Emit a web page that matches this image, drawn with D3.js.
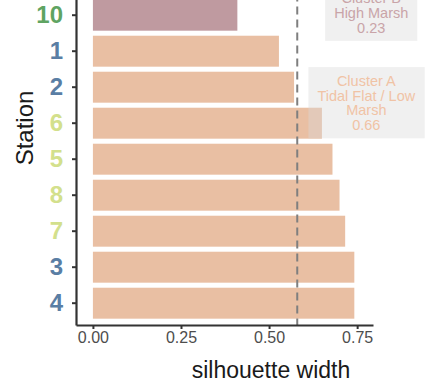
<!DOCTYPE html>
<html>
<head>
<meta charset="utf-8">
<script src="https://cdn.jsdelivr.net/npm/d3@7"></script>
<style>
  html, body { margin: 0; padding: 0; background: #fff; }
  svg { display: block; font-family: "Liberation Sans", Arial, Helvetica, sans-serif; }
</style>
</head>
<body>
<svg id="chart" width="437" height="384"></svg>
<script>
// Stations, top to bottom, with their mean silhouette width
const stations = ["10", "1", "2", "6", "5", "8", "7", "3", "4"];
const silhouette = [0.41, 0.528, 0.571, 0.65, 0.68, 0.70, 0.716, 0.742, 0.742];
const clusterOf = ["B", "A", "A", "A", "A", "A", "A", "A", "A"];
// Habitat group of each station (colours the station labels)
const stationGroup = ["green", "blue", "blue", "lime", "lime", "lime", "lime", "blue", "blue"];
const overallSilhouette = 0.58;
const xTicks = [0, 0.25, 0.5, 0.75];

// Cluster summary labels
const clusterNames = ["B", "A"];
const clusterLines = [["Cluster B", "High Marsh", "0.23"], ["Cluster A", "Tidal Flat / Low", "Marsh", "0.66"]];
const clusterLabelX = [0.79, 0.776];
const clusterLabelRow = [-0.07, 2.43];

const clusterFill = { A: "#e9bfa3", B: "#bf9aa0" };
const clusterText = { A: "#f0c3a5", B: "#c9a4a8" };
const groupColour = { green: "#5fa462", blue: "#5a7ea4", lime: "#d3e08c" };

const svg = d3.select("#chart");
const panel = { left: 76, right: 373, top: -6.6, bottom: 325 };

const x = d3.scaleLinear().domain([-0.048, 0.795]).range([panel.left, panel.right]);
const y = d3.scaleBand().domain(stations).range([panel.top, panel.bottom])
  .paddingInner(0.14).paddingOuter(0.1756);
const rowY = r => y(stations[0]) + y.bandwidth() / 2 + r * y.step();

const rows = stations.map((s, i) => ({ station: s, value: silhouette[i], cluster: clusterOf[i], group: stationGroup[i] }));

// Bars
svg.append("g").selectAll("rect").data(rows).join("rect")
  .attr("x", x(0))
  .attr("y", d => y(d.station))
  .attr("width", d => x(d.value) - x(0))
  .attr("height", y.bandwidth())
  .attr("fill", d => clusterFill[d.cluster]);

// Overall mean silhouette
svg.append("line")
  .attr("x1", x(overallSilhouette)).attr("x2", x(overallSilhouette))
  .attr("y1", panel.top).attr("y2", panel.bottom)
  .attr("stroke", "#7f7f7f").attr("stroke-width", 2)
  .attr("stroke-dasharray", "8,5");

// Cluster labels
const lineH = 14.8, fs = 14.5, padY = 9;
clusterNames.forEach((c, k) => {
  const lines = clusterLines[k];
  const cx = x(clusterLabelX[k]);
  const cy = rowY(clusterLabelRow[k]);
  const g = svg.append("g");
  const txt = g.append("text")
    .attr("text-anchor", "middle")
    .attr("font-size", fs)
    .attr("fill", clusterText[c]);
  lines.forEach((l, j) => {
    txt.append("tspan")
      .attr("x", cx)
      .attr("y", cy + (j - (lines.length - 1) / 2) * lineH)
      .attr("dy", "0.36em")
      .text(l);
  });
  const bb = txt.node().getBBox();
  const h = lines.length * lineH + 2 * padY - 6;
  g.insert("rect", "text")
    .attr("x", bb.x - 9).attr("width", bb.width + 18)
    .attr("y", cy - h / 2).attr("height", h)
    .attr("fill", "#d9d9d9").attr("fill-opacity", 0.4);
});

// Axes
const yAxis = svg.append("g").attr("transform", `translate(${panel.left},0)`)
  .call(d3.axisLeft(y).tickSize(4).tickSizeOuter(0).tickPadding(9));
yAxis.select(".domain").attr("stroke", "#333").attr("stroke-width", 2.2);
yAxis.selectAll(".tick line").attr("stroke", "#333").attr("stroke-width", 2);
yAxis.selectAll(".tick text")
  .attr("font-size", 24).attr("font-weight", "bold")
  .attr("font-family", "'Liberation Sans', Arial, sans-serif")
  .attr("fill", d => groupColour[stationGroup[stations.indexOf(d)]]);

const xAxis = svg.append("g").attr("transform", `translate(0,${panel.bottom})`)
  .call(d3.axisBottom(x).tickValues(xTicks).tickFormat(d3.format(".2f")).tickSize(4).tickSizeOuter(0).tickPadding(3));
xAxis.select(".domain").attr("stroke", "#333").attr("stroke-width", 2.2);
xAxis.selectAll(".tick line").attr("stroke", "#333").attr("stroke-width", 2);
xAxis.selectAll(".tick text")
  .attr("font-size", 16)
  .attr("font-family", "'Liberation Sans', Arial, sans-serif")
  .attr("fill", "#4d4d4d");

// Axis titles
svg.append("text")
  .attr("x", 271).attr("y", 378)
  .attr("text-anchor", "middle")
  .attr("font-size", 23)
  .attr("fill", "#1a1a1a")
  .text("silhouette width");

svg.append("text")
  .attr("transform", "translate(33,128) rotate(-90)")
  .attr("text-anchor", "middle")
  .attr("font-size", 24)
  .attr("fill", "#1a1a1a")
  .text("Station");
</script>
</body>
</html>
